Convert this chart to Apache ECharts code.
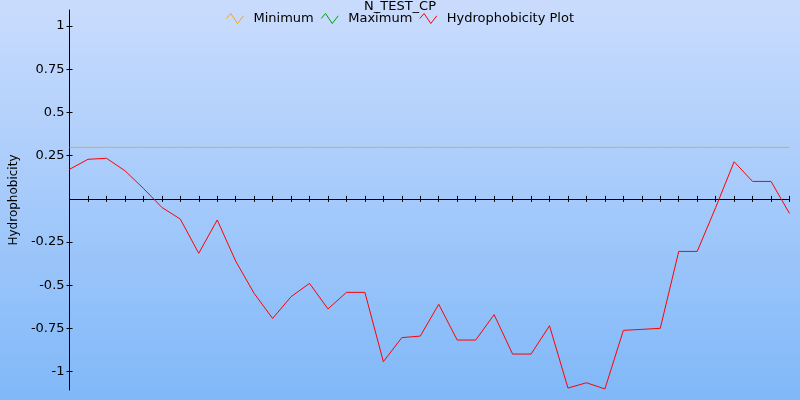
<!DOCTYPE html>
<html>
<head>
<meta charset="utf-8">
<script src="https://cdn.jsdelivr.net/npm/echarts@6/dist/echarts.min.js"></script>
<style>html,body{margin:0;padding:0;}#c{width:800px;height:400px;}</style>
</head>
<body>
<div id="c"></div>
<script>
var categories = ['1','2','3','4','5','6','7','8','9','10','11','12','13','14','15','16','17','18','19','20',
  '21','22','23','24','25','26','27','28','29','30','31','32','33','34','35','36','37','38','39','40'];
var hydrophobicity = [0.171, 0.229, 0.235, 0.163, 0.061, -0.049, -0.117, -0.315, -0.122, -0.36,
  -0.547, -0.692, -0.566, -0.489, -0.637, -0.541, -0.541, -0.942, -0.803, -0.794,
  -0.610, -0.817, -0.817, -0.670, -0.898, -0.898, -0.734, -1.095, -1.064, -1.100,
  -0.761, -0.755, -0.749, -0.304, -0.304, -0.05, 0.215, 0.101, 0.101, -0.084];
var minimum = [0.298, 0.298, 0.298, 0.298, 0.298, 0.298, 0.298, 0.298, 0.298, 0.298,
  0.298, 0.298, 0.298, 0.298, 0.298, 0.298, 0.298, 0.298, 0.298, 0.298,
  0.298, 0.298, 0.298, 0.298, 0.298, 0.298, 0.298, 0.298, 0.298, 0.298,
  0.298, 0.298, 0.298, 0.298, 0.298, 0.298, 0.298, 0.298, 0.298, 0.298];
var maximum = [];
var yTicks = [-1, -0.75, -0.5, -0.25, 0.25, 0.5, 0.75, 1];
var yMin = -1.106, yMax = 1.093;

var FONT = 'DejaVu Sans';
var zig = 'path://M0,5 L4.3,0 L11,10 L17,2.3';
var chart = echarts.init(document.getElementById('c'), null, {renderer: 'canvas'});
var axisLine = {show: true, onZero: true, lineStyle: {color: '#000', width: 1}};
chart.setOption({
  animation: false,
  backgroundColor: {type: 'linear', x: 0, y: 0, x2: 0, y2: 1,
    colorStops: [{offset: 0, color: '#cadcfd'}, {offset: 1, color: '#80b8f8'}]},
  textStyle: {fontFamily: FONT},
  title: {text: 'N_TEST_CP', left: 'center', top: -5,
    textStyle: {fontFamily: FONT, fontSize: 13, fontWeight: 'normal', color: '#000'}},
  legend: {
    left: 219, top: 6, itemWidth: 17, itemHeight: 10, itemGap: 5,
    textStyle: {fontFamily: FONT, fontSize: 13, color: '#000', padding: [0, 0, 0, 5]},
    data: [
      {name: 'Minimum', icon: zig, itemStyle: {color: 'none', borderColor: '#ffa500', borderWidth: 1}},
      {name: 'Maximum', icon: zig, itemStyle: {color: 'none', borderColor: '#00a000', borderWidth: 1}},
      {name: 'Hydrophobicity Plot', icon: zig, itemStyle: {color: 'none', borderColor: '#ff0000', borderWidth: 1}}
    ]
  },
  grid: {left: 68, right: 10.5, top: 10, bottom: 10, containLabel: false},
  xAxis: [
    {type: 'category', data: categories, boundaryGap: false, axisLine: axisLine,
      axisTick: {show: true, interval: 0, length: 3, inside: false, lineStyle: {color: '#000'}},
      axisLabel: {show: false}, splitLine: {show: false}},
    {type: 'category', data: categories, boundaryGap: false, position: 'bottom', axisLine: axisLine,
      axisTick: {show: true, interval: 0, length: 3, inside: true, lineStyle: {color: '#000'}},
      axisLabel: {show: false}, splitLine: {show: false}}
  ],
  yAxis: [
    {type: 'value', min: yMin, max: yMax, position: 'left',
      name: 'Hydrophobicity', nameLocation: 'middle', nameGap: 44, nameRotate: 90,
      nameTextStyle: {fontFamily: FONT, fontSize: 12, color: '#000'},
      axisLine: {show: true, onZero: false, lineStyle: {color: '#000', width: 1}},
      axisTick: {show: true, length: 3, customValues: yTicks, lineStyle: {color: '#000'}},
      axisLabel: {show: true, customValues: yTicks, margin: 5, fontFamily: FONT, fontSize: 13, color: '#000'},
      splitLine: {show: false}},
    {type: 'value', min: yMin, max: yMax, position: 'left',
      axisLine: {show: false, onZero: false},
      axisTick: {show: true, length: 3, inside: true, customValues: yTicks, lineStyle: {color: '#000'}},
      axisLabel: {show: false}, splitLine: {show: false}}
  ],
  series: [
    {name: 'Minimum', type: 'line', data: minimum, showSymbol: false, symbol: 'none',
      lineStyle: {color: '#f0a830', width: 1}, itemStyle: {color: '#ffa500'}},
    {name: 'Maximum', type: 'line', data: maximum, showSymbol: false, symbol: 'none',
      lineStyle: {color: '#00a000', width: 1}, itemStyle: {color: '#00a000'}},
    {name: 'Hydrophobicity Plot', type: 'line', data: hydrophobicity, showSymbol: false, symbol: 'none',
      lineStyle: {color: '#ff0000', width: 1}, itemStyle: {color: '#ff0000'}}
  ]
});
</script>
</body>
</html>
